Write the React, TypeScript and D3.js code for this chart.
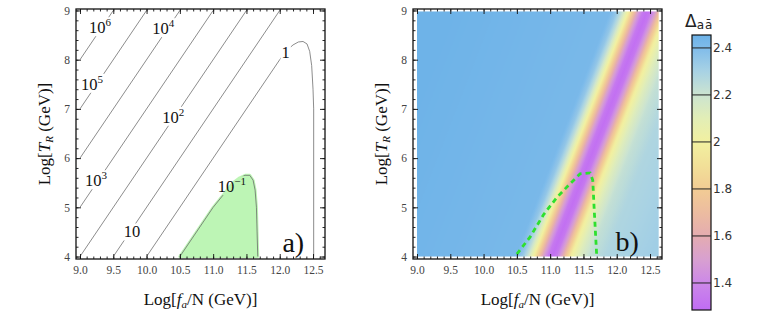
import { useEffect, useRef } from "react"
import * as d3 from "d3"

// axis ticks (both panels)
const xTickValues = [9.0, 9.5, 10.0, 10.5, 11.0, 11.5, 12.0, 12.5]
const yTickValues = [4, 5, 6, 7, 8, 9]

// panel a: contour labels and where they sit
const levelBase = ["10", "10", "10", "10", "10", "10", "1", "10"]
const levelExp = ["6", "5", "4", "3", "2", "", "", "\u22121"]
const labelX = [9.3, 9.18, 10.25, 9.24, 10.4, 9.78, 12.09, 11.28]
const labelY = [8.65, 7.5, 8.63, 5.54, 6.83, 4.5, 8.15, 5.42]

// panel a: contour lines (log fa, log TR)
const line1e6 = [[9.0, 8.0], [9.5, 9.0]]
const line1e5 = [[9.0, 7.0], [10.0, 9.0]]
const line1e4 = [[9.0, 6.0], [10.5, 9.0]]
const line1e3 = [[9.0, 5.0], [11.0, 9.0]]
const line1e2 = [[9.0, 4.0], [11.5, 9.0]]
const line1e1 = [[9.5, 4.0], [12.0, 9.0]]
const line1 = [
  [10.0, 4.0], [11.0, 6.0], [12.0, 8.0], [12.1, 8.18], [12.2, 8.3], [12.28, 8.36],
  [12.35, 8.37], [12.41, 8.32], [12.45, 8.17], [12.48, 7.88], [12.5, 7.4],
  [12.51, 7.0], [12.51, 4.0],
]
const line1em1 = [
  [10.5, 4.0], [11.0, 5.0], [11.3, 5.5], [11.4, 5.6], [11.48, 5.65], [11.55, 5.65],
  [11.6, 5.55], [11.63, 5.35], [11.65, 5.0], [11.66, 4.5], [11.67, 4.0],
]

// panel b: dashed boundary
const dashedBoundary = [
  [10.5, 4.05], [10.7, 4.4], [10.9, 4.85], [11.1, 5.2], [11.3, 5.48], [11.45, 5.68],
  [11.6, 5.7], [11.64, 5.55], [11.66, 5.0], [11.68, 4.5], [11.7, 4.0],
]

// panel b: Delta across the band (offset in log fa from band centre)
const bandOffsets = [-3.0, -0.55, -0.45, -0.37, -0.28, -0.2, -0.13, -0.06, 0, 0.06, 0.13, 0.2, 0.29, 0.4, 0.55, 0.8, 1.5, 3.0]
const bandDelta = [2.45, 2.42, 2.35, 2.22, 2.0, 1.75, 1.5, 1.34, 1.3, 1.34, 1.5, 1.75, 2.0, 2.12, 2.22, 2.28, 2.32, 2.33]
const bandCenterAt4 = 11.03
const bandSlope = 3.5

// colour bar
const cmapDelta = [1.285, 1.4, 1.5, 1.6, 1.7, 1.8, 1.9, 2.0, 2.1, 2.2, 2.3, 2.4, 2.455]
const cmapColors = ["#c06cf4", "#cc88e8", "#d8a0d0", "#e4acb0", "#ecbca0", "#f2cc94", "#f2e098", "#f2f0a0", "#e2eeb6", "#cce4d0", "#a8d2e4", "#80bcea", "#6cb2e8"]
const cbTicks = [1.4, 1.6, 1.8, 2.0, 2.2, 2.4]

const serif = "'Liberation Serif', 'Times New Roman', serif"
const sans = "'DejaVu Sans', sans-serif"

export default function App() {
  const svgRef = useRef<SVGSVGElement | null>(null)

  useEffect(() => {
    if (!svgRef.current) return
    const svg = d3.select(svgRef.current)
    svg.selectAll("*").remove()
    const defs = svg.append("defs")

    const frameTop = 9
    const frameBottom = 259
    const xDomain = [8.94, 12.68]
    const y = d3.scaleLinear().domain([3.95, 9.03]).range([frameBottom, frameTop])
    const xa = d3.scaleLinear().domain(xDomain).range([76, 325])
    const xb = d3.scaleLinear().domain(xDomain).range([413, 662])

    const cmap = d3
      .scaleLinear<string>()
      .domain(cmapDelta)
      .range(cmapColors)
      .interpolate(d3.interpolateRgb)
      .clamp(true)

    const drawFrame = (x: d3.ScaleLinear<number, number>) => {
      const g = svg.append("g")
      const [x0, x1] = x.range()
      const minorX = d3.range(90, 127).map((v) => v / 10)
      const minorY = d3.range(20, 46).map((v) => v / 5)

      const sides: [any, number, boolean][] = [
        [d3.axisBottom(x), frameBottom, true],
        [d3.axisTop(x), frameTop, false],
      ]
      sides.forEach(([ax, pos, labels]) => {
        g.append("g")
          .attr("transform", `translate(0,${pos})`)
          .call(ax.tickValues(minorX).tickSize(-2.5).tickFormat(() => ""))
        const major = g
          .append("g")
          .attr("transform", `translate(0,${pos})`)
          .call(
            ax
              .tickValues(xTickValues)
              .tickSize(-5)
              .tickPadding(7)
              .tickFormat(labels ? d3.format(".1f") : () => ""),
          )
        major.selectAll("text").style("font", `11.5px ${serif}`).attr("fill", "#444")
      })

      const vsides: [any, number, boolean][] = [
        [d3.axisLeft(y), x0, true],
        [d3.axisRight(y), x1, false],
      ]
      vsides.forEach(([ax, pos, labels]) => {
        g.append("g")
          .attr("transform", `translate(${pos},0)`)
          .call(ax.tickValues(minorY).tickSize(-2.5).tickFormat(() => ""))
        const major = g
          .append("g")
          .attr("transform", `translate(${pos},0)`)
          .call(
            ax
              .tickValues(yTickValues)
              .tickSize(-5)
              .tickPadding(6)
              .tickFormat(labels ? d3.format("d") : () => ""),
          )
        major.selectAll("text").style("font", `11.5px ${serif}`).attr("fill", "#444")
      })

      g.selectAll(".domain").remove()
      g.selectAll(".tick line").attr("stroke", "#111").attr("stroke-width", 0.9)

      g.append("rect")
        .attr("x", x0)
        .attr("y", frameTop)
        .attr("width", x1 - x0)
        .attr("height", frameBottom - frameTop)
        .attr("fill", "none")
        .attr("stroke", "#111")
        .attr("stroke-width", 1.3)

      // x title
      const cx = (x0 + x1) / 2
      const xt = svg
        .append("text")
        .attr("x", cx)
        .attr("y", 305)
        .attr("text-anchor", "middle")
        .style("font", `17px ${serif}`)
        .attr("fill", "#111")
      xt.append("tspan").text("Log[")
      xt.append("tspan").attr("font-style", "italic").text("f")
      xt.append("tspan").attr("font-style", "italic").attr("font-size", 11).attr("dy", 3).text("a")
      xt.append("tspan").attr("dy", -3).text("/N (GeV)]")

      // y title
      const cy = (frameTop + frameBottom) / 2
      const yt = svg
        .append("text")
        .attr("transform", `translate(${x0 - 26},${cy}) rotate(-90)`)
        .attr("text-anchor", "middle")
        .style("font", `17px ${serif}`)
        .attr("fill", "#111")
      yt.append("tspan").text("Log[")
      yt.append("tspan").attr("font-style", "italic").text("T")
      yt.append("tspan").attr("font-style", "italic").attr("font-size", 11).attr("dy", 3).text("R")
      yt.append("tspan").attr("dy", -3).text(" (GeV)]")
    }

    // ---------- panel a ----------
    const lineA = d3
      .line<number[]>()
      .x((d) => xa(d[0]))
      .y((d) => y(d[1]))

    svg
      .append("path")
      .attr("d", lineA(line1em1) + "Z")
      .attr("fill", "#bdf5b5")
      .attr("stroke", "#bdf5b5")
      .attr("stroke-width", 3)
      .attr("stroke-linejoin", "round")

    const contourGroup = svg.append("g")
    const allLines = [line1e6, line1e5, line1e4, line1e3, line1e2, line1e1, line1, line1em1]
    allLines.forEach((pts) => {
      contourGroup
        .append("path")
        .attr("d", lineA(pts))
        .attr("fill", "none")
        .attr("stroke", "#666")
        .attr("stroke-width", 0.75)
    })

    const labelGroup = svg.append("g")
    const labelNodes: SVGTextElement[] = []
    levelBase.forEach((base, i) => {
      const t = labelGroup
        .append("text")
        .attr("x", xa(labelX[i]))
        .attr("y", y(labelY[i]) + 5.5)
        .attr("text-anchor", "middle")
        .style("font", `16.5px ${serif}`)
        .attr("fill", "#111")
      t.append("tspan").text(base)
      if (levelExp[i]) {
        t.append("tspan").attr("font-size", 11).attr("dy", -7).text(levelExp[i])
      }
      labelNodes.push(t.node() as SVGTextElement)
    })

    const mask = defs
      .append("mask")
      .attr("id", "labelMask")
      .attr("maskUnits", "userSpaceOnUse")
      .attr("x", 0)
      .attr("y", 0)
      .attr("width", 763)
      .attr("height", 316)
    mask.append("rect").attr("width", 763).attr("height", 316).attr("fill", "white")
    labelNodes.forEach((n) => {
      const b = n.getBBox()
      mask
        .append("rect")
        .attr("x", b.x - 1)
        .attr("y", b.y + 1)
        .attr("width", b.width + 2)
        .attr("height", b.height - 2)
        .attr("fill", "black")
    })
    contourGroup.attr("mask", "url(#labelMask)")

    svg
      .append("text")
      .attr("x", xa(12.04))
      .attr("y", y(4.1))
      .style("font", `28px ${serif}`)
      .attr("fill", "#111")
      .text("a)")

    drawFrame(xa)

    // ---------- panel b ----------
    const profile = d3.scaleLinear().domain(bandOffsets).range(bandDelta).clamp(true)
    const kx = xb(1) - xb(0)
    const ky = y(0) - y(1)
    const nx0 = ky
    const ny0 = kx / bandSlope
    const nl = Math.hypot(nx0, ny0)
    const nx = nx0 / nl
    const ny = ny0 / nl
    const dMin = bandOffsets[0]
    const dMax = bandOffsets[bandOffsets.length - 1]
    const p1x = xb(bandCenterAt4 + dMin)
    const p1y = y(4)
    const L = kx * nx * (dMax - dMin)
    const grad = defs
      .append("linearGradient")
      .attr("id", "bandGrad")
      .attr("gradientUnits", "userSpaceOnUse")
      .attr("x1", p1x)
      .attr("y1", p1y)
      .attr("x2", p1x + nx * L)
      .attr("y2", p1y + ny * L)
    d3.range(0, 301).forEach((i) => {
      const t = i / 300
      const d = dMin + t * (dMax - dMin)
      grad.append("stop").attr("offset", t).attr("stop-color", cmap(profile(d)))
    })

    svg
      .append("rect")
      .attr("x", xb(9.0))
      .attr("y", y(8.98))
      .attr("width", xb(12.63) - xb(9.0))
      .attr("height", y(4.0) - y(8.98))
      .attr("fill", "url(#bandGrad)")

    const lineB = d3
      .line<number[]>()
      .x((d) => xb(d[0]))
      .y((d) => y(d[1]))
    svg
      .append("path")
      .attr("d", lineB(dashedBoundary))
      .attr("fill", "none")
      .attr("stroke", "#2ee02e")
      .attr("stroke-width", 2.8)
      .attr("stroke-dasharray", "5 4")

    svg
      .append("text")
      .attr("x", xb(11.98))
      .attr("y", y(4.12))
      .style("font", `28px ${serif}`)
      .attr("fill", "#111")
      .text("b)")

    drawFrame(xb)

    // ---------- colour bar ----------
    const cbY = d3.scaleLinear().domain([cmapDelta[0], cmapDelta[cmapDelta.length - 1]]).range([310, 35])
    const cbGrad = defs
      .append("linearGradient")
      .attr("id", "cbGrad")
      .attr("x1", 0)
      .attr("y1", 1)
      .attr("x2", 0)
      .attr("y2", 0)
    cmapDelta.forEach((v, i) => {
      const t = (v - cmapDelta[0]) / (cmapDelta[cmapDelta.length - 1] - cmapDelta[0])
      cbGrad.append("stop").attr("offset", t).attr("stop-color", cmapColors[i])
    })
    const cbX0 = 692
    const cbX1 = 711
    svg
      .append("rect")
      .attr("x", cbX0)
      .attr("y", cbY.range()[1])
      .attr("width", cbX1 - cbX0)
      .attr("height", cbY.range()[0] - cbY.range()[1])
      .attr("fill", "url(#cbGrad)")
      .attr("stroke", "#111")
      .attr("stroke-width", 1.2)
    cbTicks.forEach((v) => {
      svg
        .append("line")
        .attr("x1", cbX0)
        .attr("x2", cbX1)
        .attr("y1", cbY(v))
        .attr("y2", cbY(v))
        .attr("stroke", "#222")
        .attr("stroke-width", 1)
      svg
        .append("text")
        .attr("x", cbX1 + 2)
        .attr("y", cbY(v) + 4)
        .style("font", `12px ${sans}`)
        .attr("fill", "#333")
        .text(v === 2 ? "2" : v.toFixed(1))
    })
    const title = svg
      .append("text")
      .attr("x", 685)
      .attr("y", 27)
      .style("font", `17px ${sans}`)
      .attr("fill", "#222")
    title.append("tspan").text("\u0394")
    title.append("tspan").attr("font-size", 12).attr("dy", 2).attr("letter-spacing", 1).text("a\u0101")
  }, [])

  return (
    <svg
      ref={svgRef}
      width={763}
      height={316}
      style={{ position: "absolute", left: 0, top: 0, background: "#fff" }}
    />
  )
}
